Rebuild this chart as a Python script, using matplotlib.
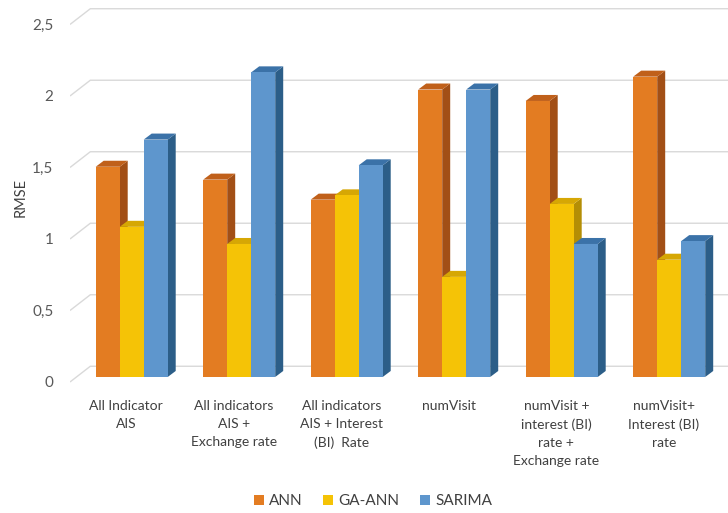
import matplotlib
matplotlib.use("Agg")
import matplotlib.pyplot as plt
from matplotlib.patches import Polygon, Patch
import numpy as np

plt.rcParams['font.family'] = ['Lato', 'DejaVu Sans']

categories = [
    "All Indicator\nAIS",
    "All indicators\nAIS +\nExchange rate",
    "All indicators\nAIS + Interest\n(BI)  Rate",
    "numVisit",
    "numVisit +\ninterest (BI)\nrate +\nExchange rate",
    "numVisit+\nInterest (BI)\nrate",
]
series_names = ["ANN", "GA-ANN", "SARIMA"]
ann = [1.47, 1.38, 1.24, 2.01, 1.93, 2.10]
ga_ann = [1.05, 0.93, 1.27, 0.70, 1.21, 0.82]
sarima = [1.66, 2.13, 1.48, 2.01, 0.93, 0.95]
yticks = [0, 0.5, 1, 1.5, 2, 2.5]
ytick_labels = ["0", "0,5", "1", "1,5", "2", "2,5"]

front_colors = ["#E37C22", "#F5C306", "#5E96CD"]
side_colors = ["#A24F16", "#B48E05", "#2C5E88"]
top_colors = ["#C0601A", "#D6A704", "#3B72A8"]

W, H = 728, 513
fig = plt.figure(figsize=(W / 100, H / 100), dpi=100)
ax = fig.add_axes([70 / W, 1 - 390 / H, 1 - 70 / W, 390 / H])
ax.set_xlim(-0.574, 5.547)
ax.set_ylim(-0.091, 2.636)
for s in ax.spines.values():
    s.set_visible(False)

# 3D look parameters (depth offsets in data units)
dx = 0.0744
dy = 0.042
bw = 0.2233
back_dy = 0.075
wall_x = -0.385
front_x = -0.574
front_dy = -0.035

grid_c = "#D9D9D9"
for v in yticks:
    ax.plot([front_x, wall_x, 5.547], [v + front_dy, v + back_dy, v + back_dy],
            color=grid_c, lw=1.0, zorder=0, solid_capstyle="butt")

x = np.arange(len(categories))
data = [ann, ga_ann, sarima]
z = 1
for gi in range(len(categories)):
    for si in range(3):
        v = data[si][gi]
        xl = x[gi] + (si - 1.5) * bw
        xr = xl + bw
        ax.bar(xl, v, width=bw, align="edge", color=front_colors[si],
               edgecolor="none", zorder=z + 0.1)
        side = Polygon([[xr, 0], [xr + dx, dy], [xr + dx, v + dy], [xr, v]],
                       closed=True, facecolor=side_colors[si], edgecolor="none", zorder=z)
        top = Polygon([[xl, v], [xl + dx, v + dy], [xr + dx, v + dy], [xr, v]],
                      closed=True, facecolor=top_colors[si], edgecolor="none", zorder=z)
        ax.add_patch(side)
        ax.add_patch(top)
        z += 1

# y tick labels
ax.set_yticks([t + front_dy for t in yticks])
ax.set_yticklabels(ytick_labels, fontsize=11, color="#595959")
ax.tick_params(axis="y", length=0, pad=12)

# category labels along the front floor edge
ax.set_xticks(x - 0.05)
ax.set_xticklabels(categories, fontsize=10, color="#404040", linespacing=1.6,
                   ha="center", multialignment="center")
ax.tick_params(axis="x", length=0, pad=7)

ax.set_ylabel("RMSE", fontsize=10.5, color="#404040")
ax.yaxis.set_label_coords(-0.065, 0.495)

handles = [Patch(facecolor=c, edgecolor="none") for c in front_colors]
fig.legend(handles, series_names, loc="center", bbox_to_anchor=(373 / W, 1 - 501 / H),
           ncol=3, frameon=False, fontsize=11, labelcolor="#404040",
           handlelength=0.65, handleheight=0.65, handletextpad=0.33, columnspacing=1.37)

fig.savefig("out.png", dpi=100)
